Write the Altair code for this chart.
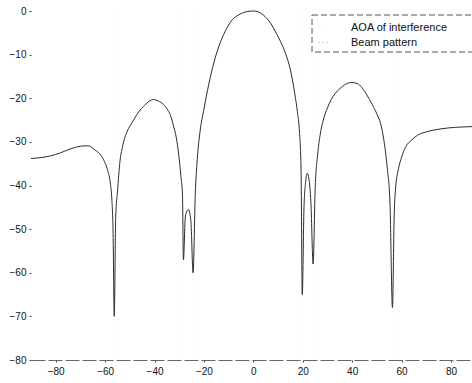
import altair as alt
import pandas as pd

# Beam pattern (dB) vs angle (degrees)
angles = [
    -90, -86, -82, -78, -74, -70, -67, -64, -61, -59,
    -58, -57.3, -56.8, -56.3, -55.7, -55, -54, -53, -51, -49,
    -46.5, -44, -42, -40.5, -39, -37, -35, -33.5, -32.4, -31.2,
    -30.2, -29.3, -28.7, -28.3, -27.5, -26.3, -25.3, -24.4, -23.5, -22.7,
    -21.5, -20, -18.6, -16.5, -14.5, -12.5, -10.5, -8.5, -6, -4,
    -1, 0, 2, 4, 7, 9, 11, 13, 15, 16.2,
    17, 17.8, 18.7, 19.3, 19.8, 20.5, 21.2, 21.8, 22.5, 23.3,
    24.2, 25, 26, 27, 28.3, 30, 31.5, 33, 35, 37,
    39.5, 42, 44, 46, 48, 50, 51.5, 52.8, 54.2, 55.3,
    56.3, 57, 57.5, 58.7, 60, 61.5, 64, 66.4, 70, 73,
    79, 84, 88.5,
]
gains = [
    -33.8, -33.6, -33.2, -32.5, -31.6, -31.0, -30.9, -31.9, -33.7, -36.5,
    -39.0, -43, -50, -70, -47, -41.5, -34.5, -31.2, -27.5, -25.5,
    -23.2, -21.6, -20.6, -20.3, -20.5, -21.1, -22.4, -24, -26.2, -29,
    -33, -38, -42, -57, -47, -45.5, -48, -60, -42, -34,
    -27.3, -22.5, -18.3, -13, -9, -6, -3.7, -2, -0.9, -0.35,
    -0.03, 0, -0.2, -0.9, -2.8, -4.8, -7, -9.7, -13.5, -17,
    -19.8, -23, -28, -36, -65, -45, -39, -37.2, -38.5, -44,
    -58, -41, -33, -28.5, -25, -22.2, -20.3, -19, -17.8, -16.9,
    -16.4, -16.6, -17.6, -19.3, -21.3, -23.6, -25.8, -29.5, -36, -44,
    -68, -47, -41, -36.3, -33.5, -31.3, -29.6, -28.5, -27.7, -27.3,
    -26.8, -26.6, -26.5,
]

# Angles of arrival of the interferers (degrees)
aoa_angles = [-56.3, -28.3, -24.4, 19.8, 24.2, 56.3]

series_names = ["AOA of interference", "Beam pattern"]
x_ticks = [-80, -60, -40, -20, 0, 20, 40, 60, 80]
y_ticks = [0, -10, -20, -30, -40, -50, -60, -70, -80]

beam_df = pd.DataFrame({"angle": angles, "gain": gains, "series": series_names[1]})
aoa_df = pd.DataFrame({"angle": aoa_angles, "lo": -80, "hi": 0, "series": series_names[0]})

color = alt.Color(
    "series:N",
    scale=alt.Scale(domain=series_names, range=["#d9d9d9", "#2b2b2b"]),
    legend=alt.Legend(
        title=None,
        orient="none",
        legendX=281,
        legendY=4,
        symbolType="stroke",
        symbolSize=144,
        symbolStrokeWidth=1,
        symbolOpacity=0.35,
        labelOffset=20,
        labelFontSize=11,
        labelFont="Liberation Sans",
        labelColor="#111111",
        padding=6,
    ),
)

xscale = alt.Scale(domain=[-90, 88.5], nice=False, zero=False)
yscale = alt.Scale(domain=[-80, 0], nice=False, zero=False)

xaxis = alt.Axis(
    title=None, values=x_ticks, grid=False, domain=True,
    domainColor="#666666", domainDash=[14, 3], domainWidth=1,
    tickSize=2, tickColor="#444444", labelPadding=4,
    labelFontSize=10, labelFont="Liberation Sans", labelColor="#111111",
)
yaxis = alt.Axis(
    title=None, values=y_ticks, grid=False, domain=False,
    tickSize=2, tickColor="#444444", labelPadding=3,
    labelFontSize=10, labelFont="Liberation Sans", labelColor="#111111",
)

aoa = alt.Chart(aoa_df).mark_rule(strokeWidth=1, strokeDash=[1, 7], opacity=0.45).encode(
    x=alt.X("angle:Q", scale=xscale, axis=xaxis),
    y=alt.Y("lo:Q", scale=yscale, axis=yaxis),
    y2="hi:Q",
    color=color,
)

beam = alt.Chart(beam_df).mark_line(strokeWidth=1, interpolate="monotone").encode(
    x=alt.X("angle:Q", scale=xscale, axis=xaxis),
    y=alt.Y("gain:Q", scale=yscale, axis=yaxis),
    color=color,
)

# dashed frame behind the legend (pure styling)
legend_box = alt.Chart(pd.DataFrame({"box": [0]})).mark_rect(
    fill="white", stroke="#555555", strokeWidth=1, strokeDash=[6, 3]
).encode(
    x=alt.value(281), x2=alt.value(447), y=alt.value(4), y2=alt.value(41)
)

chart = (
    alt.layer(aoa, beam, legend_box)
    .properties(
        width=441,
        height=349,
        autosize=alt.AutoSizeParams(type="none"),
        padding={"left": 31, "top": 11, "right": 0, "bottom": 23},
        background="white",
    )
    .configure_view(stroke=None)
    .configure_legend(
        symbolDash=[1, 3],
        rowPadding=3,
    )
)

chart.save("out.html", embed_options={"renderer": "svg", "actions": False})
